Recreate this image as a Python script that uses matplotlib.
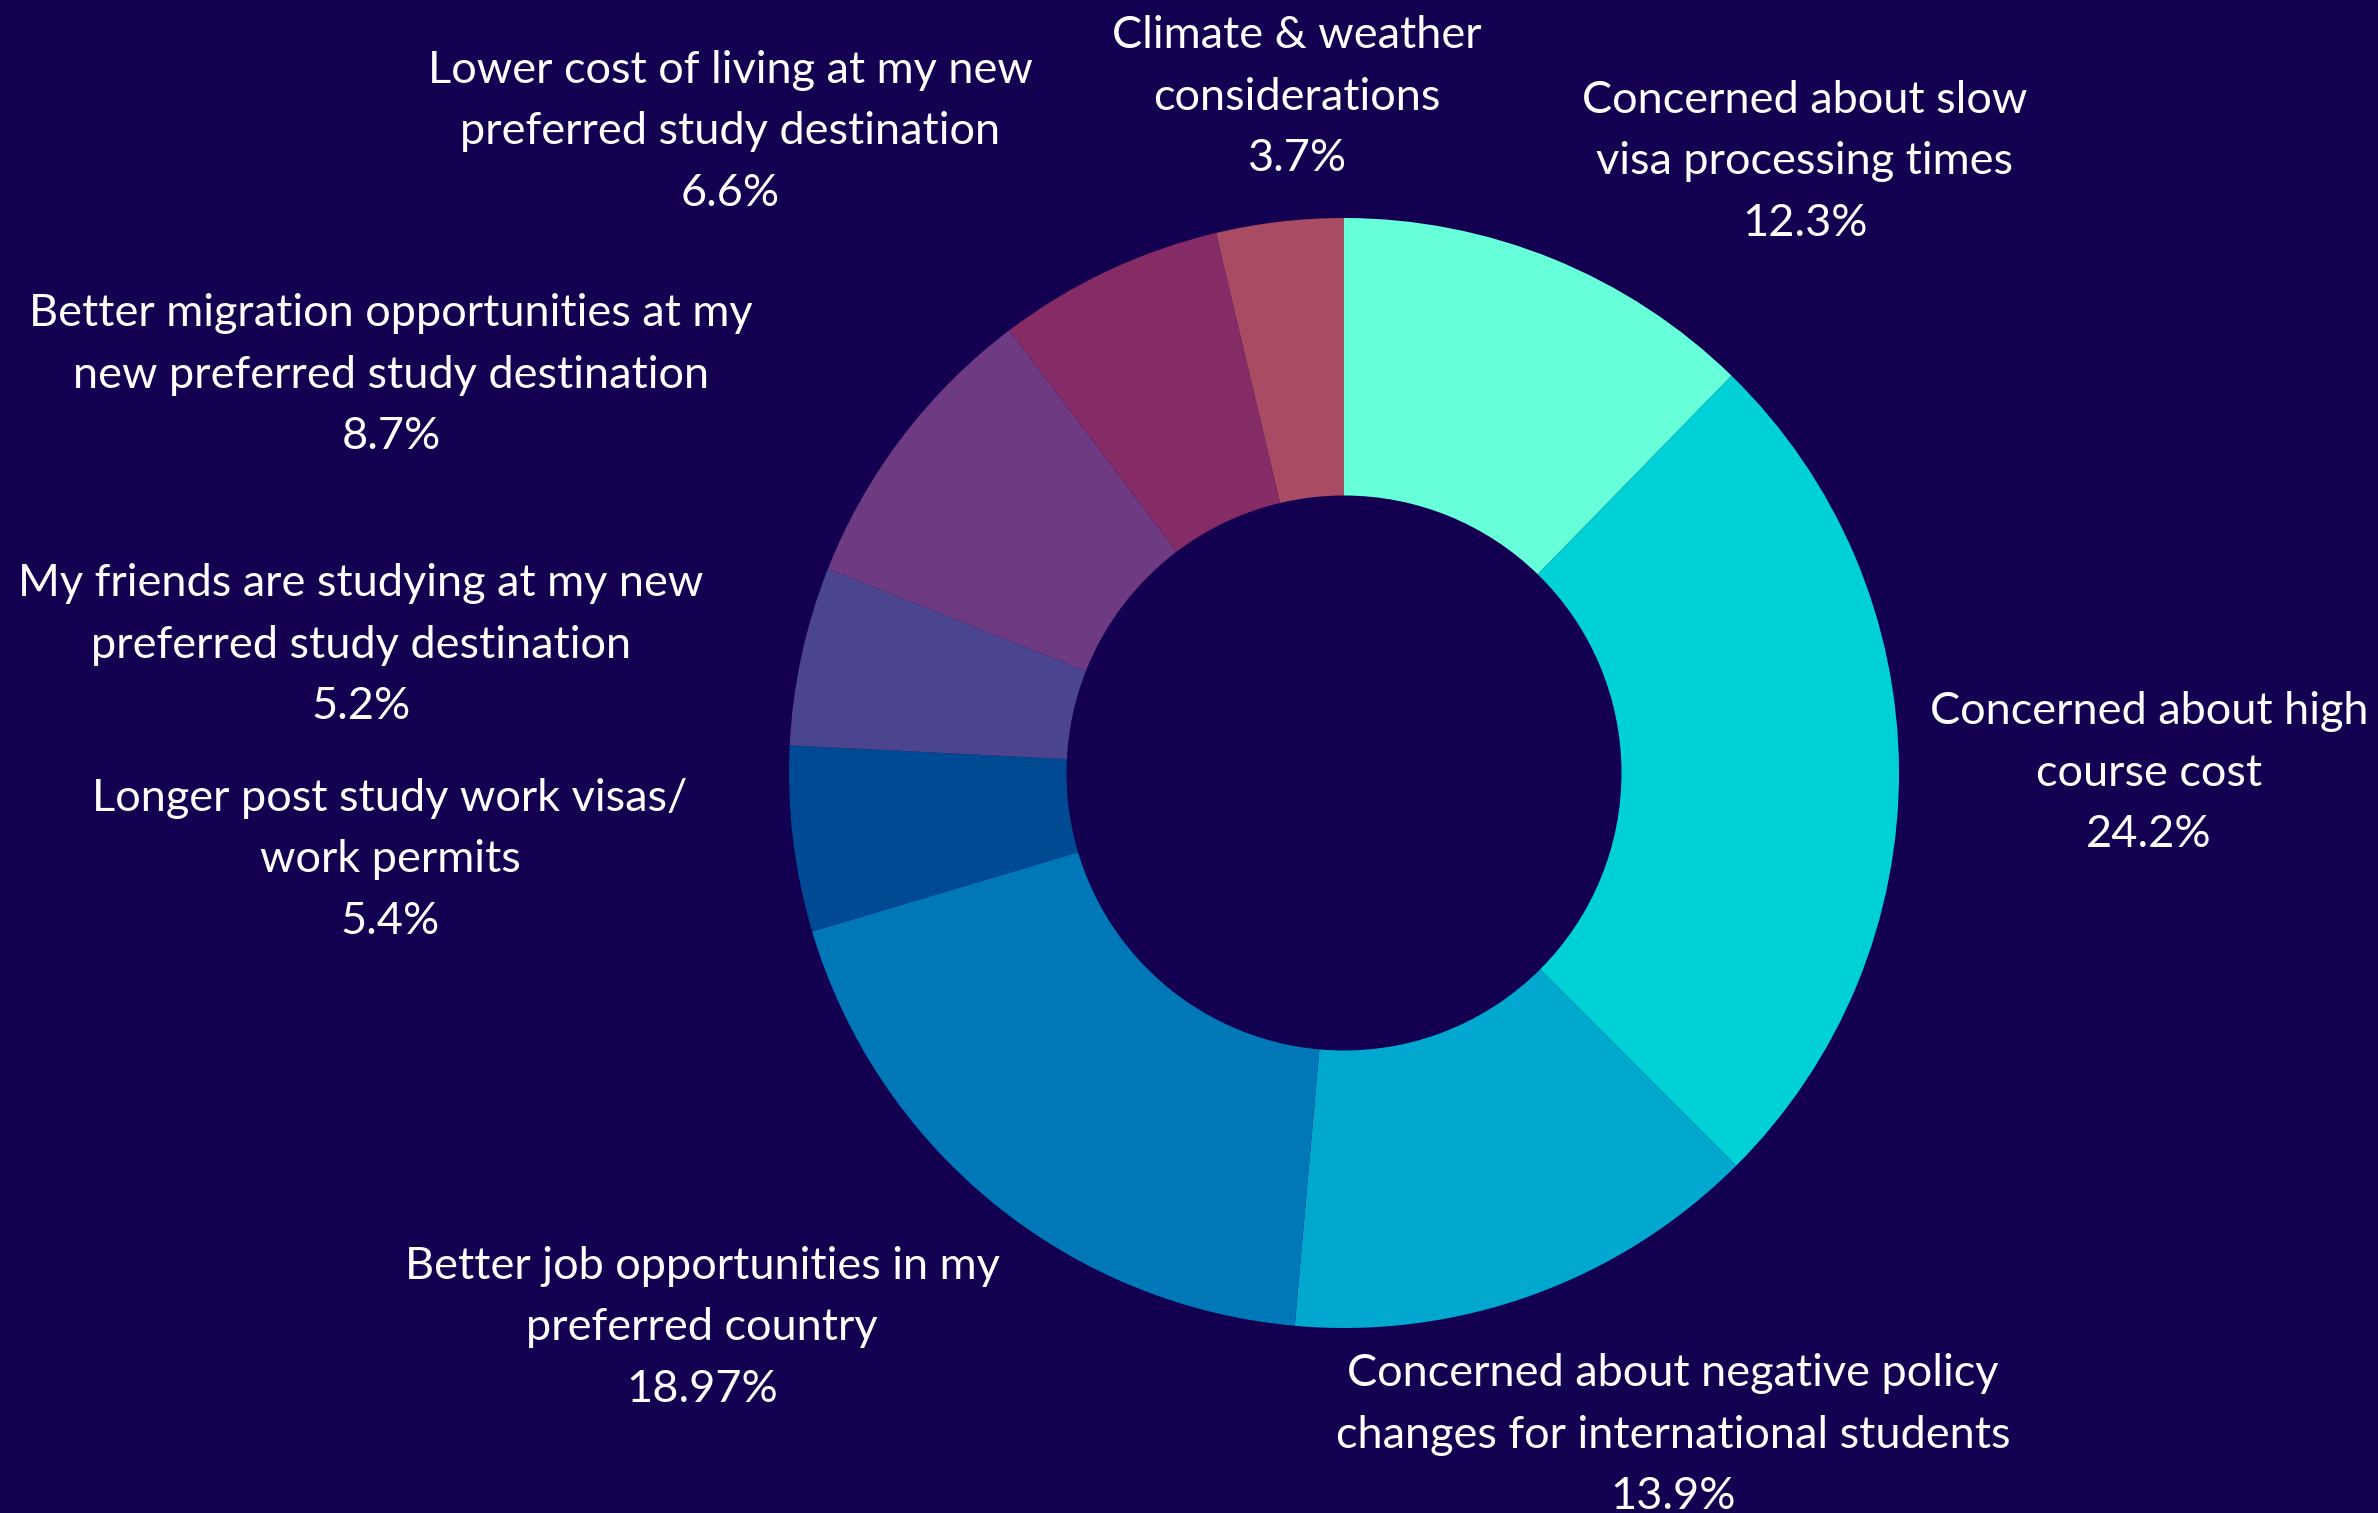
import matplotlib.pyplot as plt

# survey answers, clockwise from 12 o'clock
labels = [
    "Concerned about slow\nvisa processing times",
    "Concerned about high\ncourse cost",
    "Concerned about negative policy\nchanges for international students",
    "Better job opportunities in my\npreferred country",
    "Longer post study work visas/\nwork permits",
    "My friends are studying at my new\npreferred study destination",
    "Better migration opportunities at my\nnew preferred study destination",
    "Lower cost of living at my new\npreferred study destination",
    "Climate & weather\nconsiderations",
]
# slice sizes as drawn (the "high course cost" arc measures ~25.2 even though its label says 24.2)
values = [12.3, 25.2, 13.9, 18.97, 5.4, 5.2, 8.7, 6.6, 3.7]
value_text = ["12.3%", "24.2%", "13.9%", "18.97%", "5.4%", "5.2%", "8.7%", "6.6%", "3.7%"]

colors = ["#66FFD9", "#00D1D6", "#00A8CF", "#0078B8", "#004A94",
          "#4B4590", "#6E3A82", "#852B65", "#A84B63"]
bg = "#130050"

# label block centres, pixels from top-left
label_pos = [(1805, 162), (2149, 773), (1673, 1435), (702, 1328), (390, 860),
             (361, 645), (391, 375), (730, 132), (1297, 97)]

W, H = 2378, 1513
fig = plt.figure(figsize=(W / 100, H / 100), dpi=100)
fig.patch.set_facecolor(bg)
ax = fig.add_axes([0, 0, 1, 1])
ax.set_facecolor(bg)

R = 555
cx, cy = 1344, 773
wedges, _ = ax.pie(values, colors=colors, startangle=-90, counterclock=True,
                   radius=R, center=(cx, cy), frame=True,
                   wedgeprops=dict(width=R * 0.5, edgecolor="none", linewidth=0))
ax.set_xlim(0, W)
ax.set_ylim(H, 0)
ax.set_aspect("equal")
ax.axis("off")

for lab, vt, (x, y) in zip(labels, value_text, label_pos):
    ax.text(x, y, lab + "\n" + vt, ha="center", va="center", color="white",
            fontsize=32.5, family=["Lato", "DejaVu Sans"],
            linespacing=1.62, multialignment="center")

fig.savefig("out.png", dpi=100, facecolor=bg)
